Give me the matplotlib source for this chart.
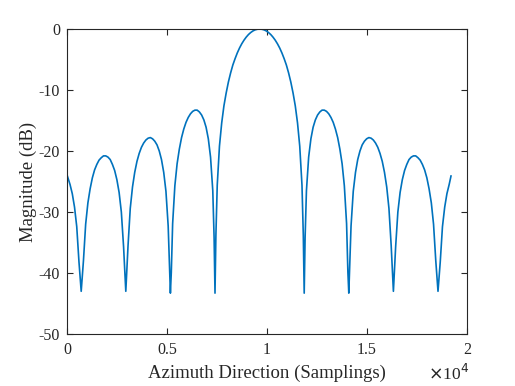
import matplotlib
matplotlib.use("Agg")
import matplotlib.pyplot as plt

# Sample index (azimuth samplings) and magnitude in dB
samples = [
    0, 152, 264, 376, 487, 599, 710,
    822, 933, 1045, 1156, 1268, 1379, 1491, 1602, 1714, 1825, 1937, 2048, 2160,
    2271, 2383, 2494, 2606, 2717, 2829, 2940,
    3052, 3163, 3275, 3386, 3498, 3609, 3721, 3832, 3944, 4055, 4167, 4278, 4390,
    4501, 4613, 4724, 4836, 4947, 5059, 5170,
    5215, 5282, 5393, 5505, 5616, 5728, 5839, 5951, 6062, 6174, 6285, 6397, 6508,
    6620, 6731, 6843, 6954, 7066, 7177, 7289, 7355, 7400,
    7445, 7512, 7623, 7735, 7846, 7958, 8069, 8181, 8292, 8404, 8515, 8627, 8738,
    8850, 8961, 9073, 9184, 9296, 9407, 9519, 9630, 9742, 9853, 9965, 10076, 10188,
    10299, 10411, 10522, 10634, 10745, 10857, 10968, 11080, 11191, 11303, 11414,
    11526, 11637, 11749, 11815, 11860,
    11905, 11972, 12083, 12195, 12306, 12418, 12529, 12641, 12752, 12864, 12975,
    13087, 13198, 13310, 13421, 13533, 13644, 13756, 13867, 13979, 14045, 14090,
    14202, 14313, 14425, 14536, 14648, 14759, 14871, 14982, 15094, 15205, 15317,
    15428, 15540, 15651, 15763, 15874, 15986, 16097, 16209, 16320,
    16432, 16543, 16655, 16766, 16878, 16989, 17101, 17212, 17324, 17435, 17547,
    17658, 17770, 17881, 17993, 18104, 18216, 18327, 18439, 18550,
    18662, 18773, 18885, 18996, 19108, 19200,
]
magnitude_db = [
    -23.9, -25.5, -27.0, -29.2, -32.4, -38.2, -43.0,
    -38.0, -32.0, -28.5, -26.2, -24.4, -23.1, -22.2, -21.5, -21.1, -20.8, -20.8, -21.0, -21.4,
    -22.2, -23.2, -24.7, -26.8, -30.0, -35.7, -43.0,
    -35.5, -29.4, -25.9, -23.5, -21.7, -20.4, -19.4, -18.7, -18.2, -17.9, -17.8, -18.0, -18.4,
    -19.0, -20.0, -21.4, -23.5, -26.6, -32.3, -43.3,
    -39.9, -31.9, -25.7, -22.1, -19.7, -17.8, -16.4, -15.3, -14.5, -13.9, -13.5, -13.3, -13.3,
    -13.6, -14.1, -14.9, -16.1, -18.0, -21.0, -26.5, -34.2, -43.3,
    -33.8, -25.6, -19.2, -15.4, -12.6, -10.5, -8.7, -7.2, -5.9, -4.86, -3.92, -3.11, -2.42,
    -1.83, -1.33, -0.91, -0.58, -0.32, -0.14, -0.04, 0.0, -0.04, -0.14, -0.32, -0.58, -0.91,
    -1.33, -1.83, -2.42, -3.11, -3.92, -4.86, -5.9, -7.2, -8.7, -10.5, -12.6,
    -15.4, -19.2, -25.6, -33.8, -43.3,
    -34.2, -26.5, -21.0, -18.0, -16.1, -14.9, -14.1, -13.6, -13.3, -13.3, -13.5,
    -13.9, -14.5, -15.3, -16.4, -17.8, -19.7, -22.1, -25.7, -31.9, -39.9, -43.3,
    -32.3, -26.6, -23.5, -21.4, -20.0, -19.0, -18.4, -18.0, -17.8, -17.9, -18.2,
    -18.7, -19.4, -20.4, -21.7, -23.5, -25.9, -29.4, -35.5, -43.0,
    -35.7, -30.0, -26.8, -24.7, -23.2, -22.2, -21.4, -21.0, -20.8, -20.8, -21.1,
    -21.5, -22.2, -23.1, -24.4, -26.2, -28.5, -32.0, -38.0, -43.0,
    -38.2, -32.4, -29.2, -27.0, -25.5, -24.1,
]
x_ticks = [0, 5000, 10000, 15000, 20000]
x_tick_labels = ["0", "0.5", "1", "1.5", "2"]
y_ticks = [0, -10, -20, -30, -40, -50]
y_tick_labels = ["0", "-10", "-20", "-30", "-40", "-50"]

plt.rcParams['font.family'] = ['Liberation Serif', 'DejaVu Serif']

fig = plt.figure(figsize=(5.15, 3.86), dpi=100)
ax = fig.add_axes([67/515, (386-334)/386, 400/515, 305/386])
ax.plot(samples, magnitude_db, color='#0072BD', lw=1.2)
ax.set_xlim(0, 20000)
ax.set_ylim(-50, 0)
ax.set_xticks(x_ticks)
ax.set_xticklabels(x_tick_labels)
ax.set_yticks(y_ticks)
ax.set_yticklabels(y_tick_labels)
for s in ax.spines.values():
    s.set_color('#262626')
    s.set_linewidth(0.8)
ax.tick_params(direction='in', length=4, width=0.8, colors='#262626',
               labelsize=11.5, top=True, right=True)
ax.tick_params(axis='x', pad=6)
ax.tick_params(axis='y', pad=5)
for lab in ax.get_xticklabels() + ax.get_yticklabels():
    lab.set_color('#262626')
ax.set_xlabel("Azimuth Direction (Samplings)", fontsize=13.5, color='#262626', labelpad=4.5)
ax.set_ylabel("Magnitude (dB)", fontsize=13.5, color='#262626', labelpad=1)
fig.text(449/515, 1 - 374/386, r"$\times$10$^4$", fontsize=12.5,
         color='#262626', ha='center', va='center')

fig.savefig("out.png", dpi=100)
